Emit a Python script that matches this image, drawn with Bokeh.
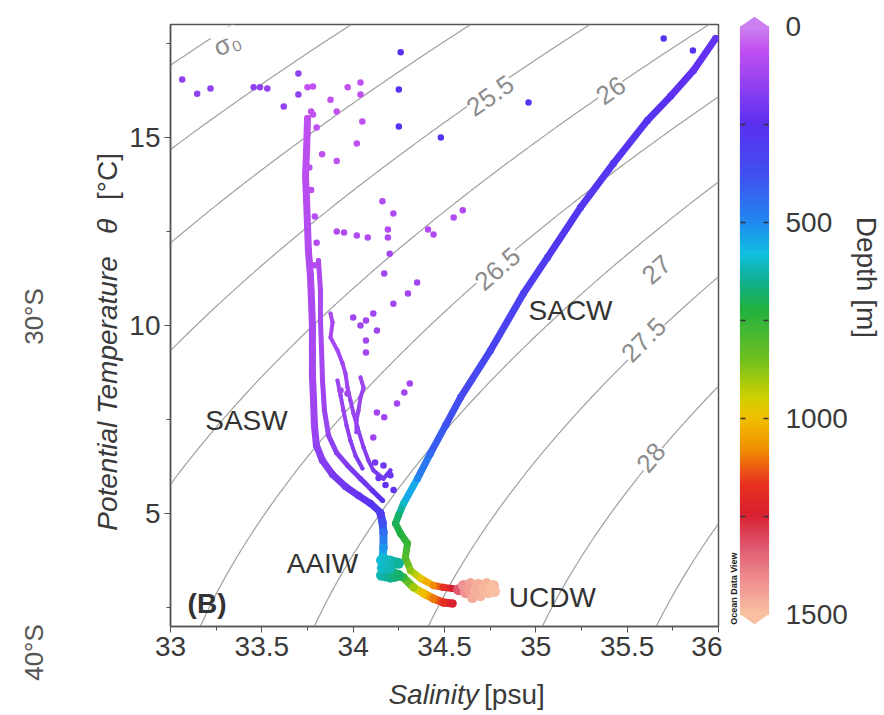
import numpy as np
from bokeh.plotting import figure
from bokeh.models import Range1d, FixedTicker, Label, ColumnDataSource, NumeralTickFormatter
from bokeh.layouts import row, column
from bokeh.transform import linear_cmap
from bokeh.core.properties import value
from bokeh.embed import file_html
from bokeh.resources import INLINE

FONT = "Liberation Sans"

# ---------------- colour scale (depth -> colour), ODV-like ----------------
cmap_depth = [0, 60, 150, 250, 380, 500, 580, 650, 720, 850, 950, 1000, 1080, 1170, 1250, 1330, 1420, 1500]
cmap_hex = ["#cc80f0", "#c050f0", "#9040f0", "#5a30f0", "#4050f0", "#2088f0", "#10c0e0", "#10b090",
            "#20b040", "#70c020", "#d0d000", "#f0c000", "#f09000", "#e83020", "#d82030", "#e05870",
            "#f09090", "#f8c0a0"]
cbar_ticks = [0, 500, 1000, 1500]
cbar_tick_labels = ["0", "500", "1000", "1500"]
cbar_minor = [250, 750, 1250]

# ---------------- axes ----------------
x_ticks = [33, 33.5, 34, 34.5, 35, 35.5, 36]
x_minor = [33.25, 33.75, 34.25, 34.75, 35.25, 35.75]
y_ticks = [5, 10, 15]
y_minor = [2.5, 7.5, 12.5, 17.5]
sigma_levels = [24, 24.5, 25, 25.5, 26, 26.5, 27, 27.5, 28, 28.5]

# ---------------- data traces (salinity, temperature, depth) ----------------
sacw_s = [35.984, 35.863, 35.737, 35.611, 35.425, 35.245, 35.064, 34.932, 34.752, 34.588, 34.505,
          34.423, 34.352, 34.276, 34.248, 34.232, 34.259, 34.297, 34.286, 34.314, 34.369, 34.440,
          34.494, 34.544]
sacw_t = [17.63, 16.78, 16.09, 15.45, 14.31, 13.14, 11.81, 10.85, 9.34, 8.09, 7.34,
          6.60, 5.93, 5.27, 4.95, 4.74, 4.47, 4.21, 3.83, 3.49, 3.28, 3.09,
          3.04, 3.01]
sacw_d = [230, 240, 250, 260, 270, 285, 300, 315, 335, 360, 390,
          430, 500, 600, 680, 700, 720, 760, 800, 880, 980, 1080,
          1180, 1250]

aaiw_s = [34.150, 34.161, 34.166, 34.166, 34.161, 34.177, 34.221, 34.276, 34.330, 34.385, 34.440, 34.494, 34.544]
aaiw_t = [5.00, 4.76, 4.50, 4.10, 3.81, 3.59, 3.44, 3.30, 3.04, 2.88, 2.74, 2.64, 2.61]
aaiw_d = [300, 380, 440, 520, 580, 620, 680, 760, 900, 1000, 1100, 1180, 1250]

col1_s = [33.750, 33.745, 33.739, 33.745, 33.750, 33.755, 33.766, 33.772, 33.777, 33.777, 33.777,
          33.783, 33.788, 33.799, 33.832, 33.887, 33.958, 34.029, 34.095, 34.150]
col1_t = [15.50, 14.65, 13.99, 13.32, 12.66, 11.99, 11.33, 10.66, 10.00, 9.34, 8.67,
          8.01, 7.34, 6.81, 6.41, 6.04, 5.72, 5.48, 5.27, 5.03]
col1_d = [60, 70, 75, 80, 85, 90, 95, 100, 105, 110, 115,
          120, 130, 150, 170, 190, 210, 230, 260, 300]

col2_s = [33.810, 33.821, 33.821, 33.827, 33.832, 33.843, 33.865, 33.909, 33.969, 34.040, 34.106, 34.161]
col2_t = [11.73, 10.93, 10.13, 9.34, 8.54, 7.74, 7.08, 6.62, 6.28, 5.93, 5.61, 5.35]
col2_d = [90, 100, 105, 110, 120, 130, 145, 160, 180, 200, 230, 270]

col3_s = [33.914, 33.931, 33.947, 33.964, 33.985, 34.013, 34.051]
col3_t = [8.54, 8.14, 7.74, 7.34, 6.94, 6.54, 6.20]
col3_d = [130, 135, 140, 150, 160, 175, 190]

br1_s = [33.876, 33.887, 33.876, 33.914, 33.942, 33.958, 33.969, 33.985, 34.002, 34.024, 34.057,
         34.084, 34.111, 34.166, 34.204]
br1_t = [10.32, 10.08, 9.68, 9.34, 8.99, 8.72, 8.35, 8.01, 7.66, 7.29, 6.76,
         6.41, 6.15, 5.93, 6.15]
br1_d = [100, 105, 110, 115, 120, 125, 130, 135, 140, 150, 160,
         175, 190, 205, 215]

br2_s = [34.040, 34.057, 34.040, 34.029, 34.018, 34.018]
br2_t = [8.62, 8.35, 8.09, 7.74, 7.48, 7.16]
br2_d = [125, 128, 130, 135, 140, 145]

# teal block and deep (UCDW) blob
teal_s = [34.155, 34.180, 34.204, 34.228, 34.248, 34.155, 34.180, 34.204, 34.228, 34.248, 34.160, 34.200]
teal_t = [3.76, 3.76, 3.74, 3.70, 3.68, 3.36, 3.34, 3.31, 3.33, 3.36, 3.56, 3.55]
teal_d = [590, 600, 610, 625, 640, 620, 635, 650, 665, 680, 600, 620]

ucdw_s = [34.577, 34.604, 34.642, 34.686, 34.730, 34.768, 34.615, 34.653, 34.697, 34.741, 34.774,
          34.630, 34.670, 34.715, 34.755]
ucdw_t = [2.98, 3.09, 3.14, 3.12, 3.14, 3.09, 2.90, 2.77, 2.82, 2.90, 2.93,
          3.00, 2.98, 3.00, 3.02]
ucdw_d = [1330, 1420, 1450, 1470, 1480, 1490, 1420, 1460, 1480, 1490, 1500,
          1440, 1470, 1485, 1495]

# isolated samples
iso_s = [33.064, 33.146, 33.219, 33.455, 33.490, 33.530, 33.620, 33.700, 33.700,
         33.750, 33.780, 33.770, 33.780, 33.876, 33.910, 33.970, 34.040, 34.040, 34.050, 33.800,
         33.750, 34.020, 33.830, 33.910,
         34.260, 34.250, 34.250, 34.480, 34.960, 35.700, 35.860,
         34.160, 34.220, 33.910, 33.950, 34.020, 34.080, 34.190, 34.190, 34.410, 34.440, 34.550, 34.600,
         34.170, 34.200, 34.220, 34.300, 34.350, 34.000, 34.040, 34.070, 34.110, 34.130, 34.070, 34.070,
         34.280, 34.310, 34.240, 34.130, 34.170, 34.110, 33.931, 33.969,
         34.120, 34.166, 34.204, 34.177, 34.221, 34.139,
         33.760, 33.770, 33.790, 33.800, 33.790, 33.770]
iso_t = [16.54, 16.16, 16.30, 16.33, 16.33, 16.30, 15.82, 16.70, 16.14,
         16.33, 16.35, 15.69, 15.61, 16.00, 15.69, 16.33, 16.46, 16.14, 15.42, 15.26,
         15.08, 14.84, 14.55, 14.37,
         17.26, 16.27, 15.29, 15.00, 15.93, 17.63, 17.31,
         13.30, 12.98, 12.50, 12.47, 12.39, 12.34, 12.55, 12.34, 12.55, 12.42, 12.87, 13.06,
         11.38, 11.91, 10.58, 10.85, 11.14, 10.21, 10.00, 10.13, 10.32, 9.87, 9.60, 9.28,
         8.22, 8.46, 7.93, 7.69, 7.56, 7.02, 8.27, 8.19,
         6.36, 6.28, 6.02, 5.76, 5.63, 5.95,
         14.20, 13.60, 12.90, 12.20, 11.60, 10.90]
iso_d = [150, 150, 150, 150, 150, 150, 150, 150, 150,
         60, 60, 60, 60, 60, 60, 60, 60, 60, 60, 60,
         60, 60, 60, 60,
         260, 260, 260, 260, 260, 260, 260,
         90, 90, 90, 90, 90, 90, 90, 90, 90, 90, 90, 90,
         120, 120, 120, 120, 120, 120, 120, 120, 120, 120, 120, 120,
         120, 120, 120, 120, 120, 120, 120, 120,
         200, 210, 220, 230, 240, 220,
         70, 75, 80, 85, 90, 95]

# annotations
wm_text = ["SASW", "AAIW", "SACW", "UCDW", "(B)"]
wm_s = [33.416, 33.832, 35.19, 35.09, 33.20]
wm_t = [7.475, 3.67, 10.40, 2.77, 2.61]

clab_text = ["σ₀", "25.5", "26", "26.5", "27", "27.5", "28"]
clab_s = [33.31, 34.75, 35.41, 34.79, 35.66, 35.59, 35.63]
clab_t = [17.50, 16.11, 16.25, 11.51, 11.49, 9.62, 6.49]
clab_deg = [22, 35, 35, 41, 41, 45, 50]

lat_text = ["30°S", "40°S"]
ylabel_parts = ["Potential Temperature", "θ", "[°C]"]
xlabel_parts = ["Salinity", "[psu]"]


# ---------------- helpers ----------------
def hex2rgb(h):
    return tuple(int(h[i:i + 2], 16) for i in (1, 3, 5))


def build_palette(n=256):
    pal = []
    for i in range(n):
        d = 1500.0 * i / (n - 1)
        j = int(np.searchsorted(cmap_depth, d, side="right") - 1)
        j = min(max(j, 0), len(cmap_depth) - 2)
        f = (d - cmap_depth[j]) / (cmap_depth[j + 1] - cmap_depth[j])
        c0, c1 = hex2rgb(cmap_hex[j]), hex2rgb(cmap_hex[j + 1])
        c = [int(round(a + (b - a) * f)) for a, b in zip(c0, c1)]
        pal.append("#%02x%02x%02x" % tuple(c))
    return pal


def sigma0(S, T):
    # UNESCO (1981) density at p = 0
    rw = (999.842594 + 6.793952e-2 * T - 9.095290e-3 * T ** 2 + 1.001685e-4 * T ** 3
          - 1.120083e-6 * T ** 4 + 6.536332e-9 * T ** 5)
    A = 8.24493e-1 - 4.0899e-3 * T + 7.6438e-5 * T ** 2 - 8.2467e-7 * T ** 3 + 5.3875e-9 * T ** 4
    B = -5.72466e-3 + 1.0227e-4 * T - 1.6546e-6 * T ** 2
    C = 4.8314e-4
    return rw + A * S + B * S ** 1.5 + C * S ** 2 - 1000.0


def blank_fig(w, h, xr, yr):
    f = figure(width=w, height=h, x_range=xr, y_range=yr, x_axis_type=None, y_axis_type=None,
               output_backend="svg", toolbar_location=None,
               min_border_left=0, min_border_right=0, min_border_top=0, min_border_bottom=0)
    f.outline_line_color = None
    f.xgrid.visible = False
    f.ygrid.visible = False
    f.background_fill_color = "white"
    f.border_fill_color = "white"
    return f


palette = build_palette()
cmap = dict(palette=palette, low=0, high=1500)
TEXT_COLOR = "#3a3a3a"
LEFT_W = 126

# ---------------- main T-S figure ----------------
p = figure(width=722 - LEFT_W, height=672, x_range=Range1d(33, 36), y_range=Range1d(2, 18),
           output_backend="svg", toolbar_location=None,
           min_border_left=170 - LEFT_W, min_border_right=4, min_border_top=24, min_border_bottom=46)
p.background_fill_color = "white"
p.border_fill_color = "white"
p.outline_line_color = "#555555"
p.outline_line_width = 1.5
p.xgrid.visible = False
p.ygrid.visible = False

# density contours
sg = np.linspace(33, 36, 151)
tg = np.linspace(2, 18, 201)
SS, TT = np.meshgrid(sg, tg)
p.contour(sg, tg, sigma0(SS, TT), levels=sigma_levels, line_color="#a0a0a0", line_width=1.2)

# traces: segments + sample dots
traces = [
    (col1_s, col1_t, col1_d, 7),
    (col2_s, col2_t, col2_d, 5),
    (col3_s, col3_t, col3_d, 4),
    (br1_s, br1_t, br1_d, 4),
    (br2_s, br2_t, br2_d, 4),
    (aaiw_s, aaiw_t, aaiw_d, 8),
    (sacw_s, sacw_t, sacw_d, 7),
]
seg = dict(x0=[], y0=[], x1=[], y1=[], d=[], w=[])
pts = dict(x=[], y=[], d=[], sz=[])
for s, t, d, w in traces:
    for i in range(len(s) - 1):
        seg["x0"].append(s[i]); seg["y0"].append(t[i])
        seg["x1"].append(s[i + 1]); seg["y1"].append(t[i + 1])
        seg["d"].append(0.5 * (d[i] + d[i + 1])); seg["w"].append(w)
    pts["x"] += list(s); pts["y"] += list(t); pts["d"] += list(d); pts["sz"] += [w] * len(s)

for s, t, d, w in [(teal_s, teal_t, teal_d, 11), (ucdw_s, ucdw_t, ucdw_d, 11)]:
    pts["x"] += list(s); pts["y"] += list(t); pts["d"] += list(d); pts["sz"] += [w] * len(s)

p.segment("x0", "y0", "x1", "y1", source=ColumnDataSource(seg), line_width="w", line_cap="round",
          line_color=linear_cmap("d", **cmap))
p.scatter("x", "y", size="sz", source=ColumnDataSource(pts), marker="circle", line_color=None,
          fill_color=linear_cmap("d", **cmap))
p.scatter("x", "y", size=6.5, source=ColumnDataSource(dict(x=iso_s, y=iso_t, d=iso_d)),
          marker="circle", line_color=None, fill_color=linear_cmap("d", **cmap))

# axes
p.xaxis.ticker = FixedTicker(ticks=x_ticks, minor_ticks=x_minor)
p.yaxis.ticker = FixedTicker(ticks=y_ticks, minor_ticks=y_minor)
p.xaxis.formatter = NumeralTickFormatter(format="0.[0]")
for ax in (p.xaxis, p.yaxis):
    ax.axis_line_color = "#555555"
    ax.axis_line_width = 1.5
    ax.major_tick_line_color = "#555555"
    ax.minor_tick_line_color = "#555555"
    ax.major_tick_in = 0
    ax.major_tick_out = 6
    ax.minor_tick_in = 0
    ax.minor_tick_out = 4
    ax.major_label_text_font = FONT
    ax.major_label_text_font_size = "28px"
    ax.major_label_text_color = TEXT_COLOR
    ax.major_label_standoff = 4

# contour labels
for txt, s, t, a in zip(clab_text, clab_s, clab_t, clab_deg):
    p.add_layout(Label(x=s, y=t, text=txt, angle=np.deg2rad(a), text_align="center",
                       text_baseline="middle", text_font=FONT, text_font_size="26px",
                       text_color="#8c8c8c", background_fill_color="white"))

# water mass labels
for txt, s, t in zip(wm_text, wm_s, wm_t):
    p.add_layout(Label(x=s, y=t, text=txt, text_align="center", text_baseline="middle",
                       text_font=FONT, text_font_size="28px", text_color="#333333",
                       text_font_style="bold" if txt == "(B)" else "normal"))

# ---------------- left strip: y-axis title and latitude marks (pixel coords) ----------------
left = blank_fig(LEFT_W, 715, Range1d(0, LEFT_W), Range1d(715, 0))
left.text(x=[107], y=[393], text=[ylabel_parts[0]], angle=np.pi / 2, text_align="center",
          text_baseline="middle", text_font=value(FONT), text_font_size="28px",
          text_font_style="italic", text_color=TEXT_COLOR)
left.text(x=[107], y=[226], text=[ylabel_parts[1]], angle=np.pi / 2, text_align="center",
          text_baseline="middle", text_font=value(FONT), text_font_size="28px",
          text_font_style="italic", text_color=TEXT_COLOR)
left.text(x=[107], y=[176], text=[ylabel_parts[2]], angle=np.pi / 2, text_align="center",
          text_baseline="middle", text_font=value(FONT), text_font_size="28px",
          text_color=TEXT_COLOR)
left.text(x=[33, 33], y=[316, 652], text=lat_text, angle=np.pi / 2, text_align="center",
          text_baseline="middle", text_font=value(FONT), text_font_size="26px",
          text_color="#555555")

# ---------------- bottom strip: x-axis title (pixel coords) ----------------
bottom = blank_fig(722 - LEFT_W, 43, Range1d(LEFT_W, 722), Range1d(715, 672))
bottom.text(x=[363], y=[694], text=[xlabel_parts[0]], text_align="left", text_baseline="middle",
            text_font=value(FONT), text_font_size="28px", text_font_style="italic",
            text_color=TEXT_COLOR)
bottom.text(x=[467], y=[694], text=[xlabel_parts[1]], text_align="left", text_baseline="middle",
            text_font=value(FONT), text_font_size="28px", text_color=TEXT_COLOR)

# ---------------- colour bar strip (x in pixels, y in depth) ----------------
cb = blank_fig(162, 715, Range1d(722, 884), Range1d(1757.65, -66.33))
n = len(palette)
edges = np.linspace(0, 1500, n + 1)
cb.quad(left=740, right=768, top=edges[:-1], bottom=edges[1:], fill_color=palette,
        line_color=palette, line_width=1.2)
cb.patch([740, 754, 768], [0, -25, 0], fill_color=palette[0], line_color=None)
cb.patch([740, 754, 768], [1500, 1525, 1500], fill_color=palette[-1], line_color=None)
tk = cbar_minor + cbar_ticks[1:-1]
cb.segment(x0=[740] * len(tk), x1=[745] * len(tk), y0=tk, y1=tk, line_color="#333333", line_width=1.5)
cb.segment(x0=[763] * len(tk), x1=[768] * len(tk), y0=tk, y1=tk, line_color="#333333", line_width=1.5)
cb.text(x=[785] * 4, y=cbar_ticks, text=cbar_tick_labels, text_align="left",
        text_baseline="middle", text_font=value(FONT), text_font_size="28px", text_color=TEXT_COLOR)
cb.text(x=[866], y=[640], text=["Depth [m]"], angle=-np.pi / 2, text_align="center",
        text_baseline="middle", text_font=value(FONT), text_font_size="28px", text_color=TEXT_COLOR)
cb.text(x=[733], y=[1434], text=["Ocean Data View"], angle=np.pi / 2, text_align="center",
        text_baseline="middle", text_font=value(FONT), text_font_size="9px",
        text_font_style="bold", text_color="#222222")

layout = row(left, column(p, bottom), cb)
open("out.html", "w").write(file_html(layout, INLINE))
